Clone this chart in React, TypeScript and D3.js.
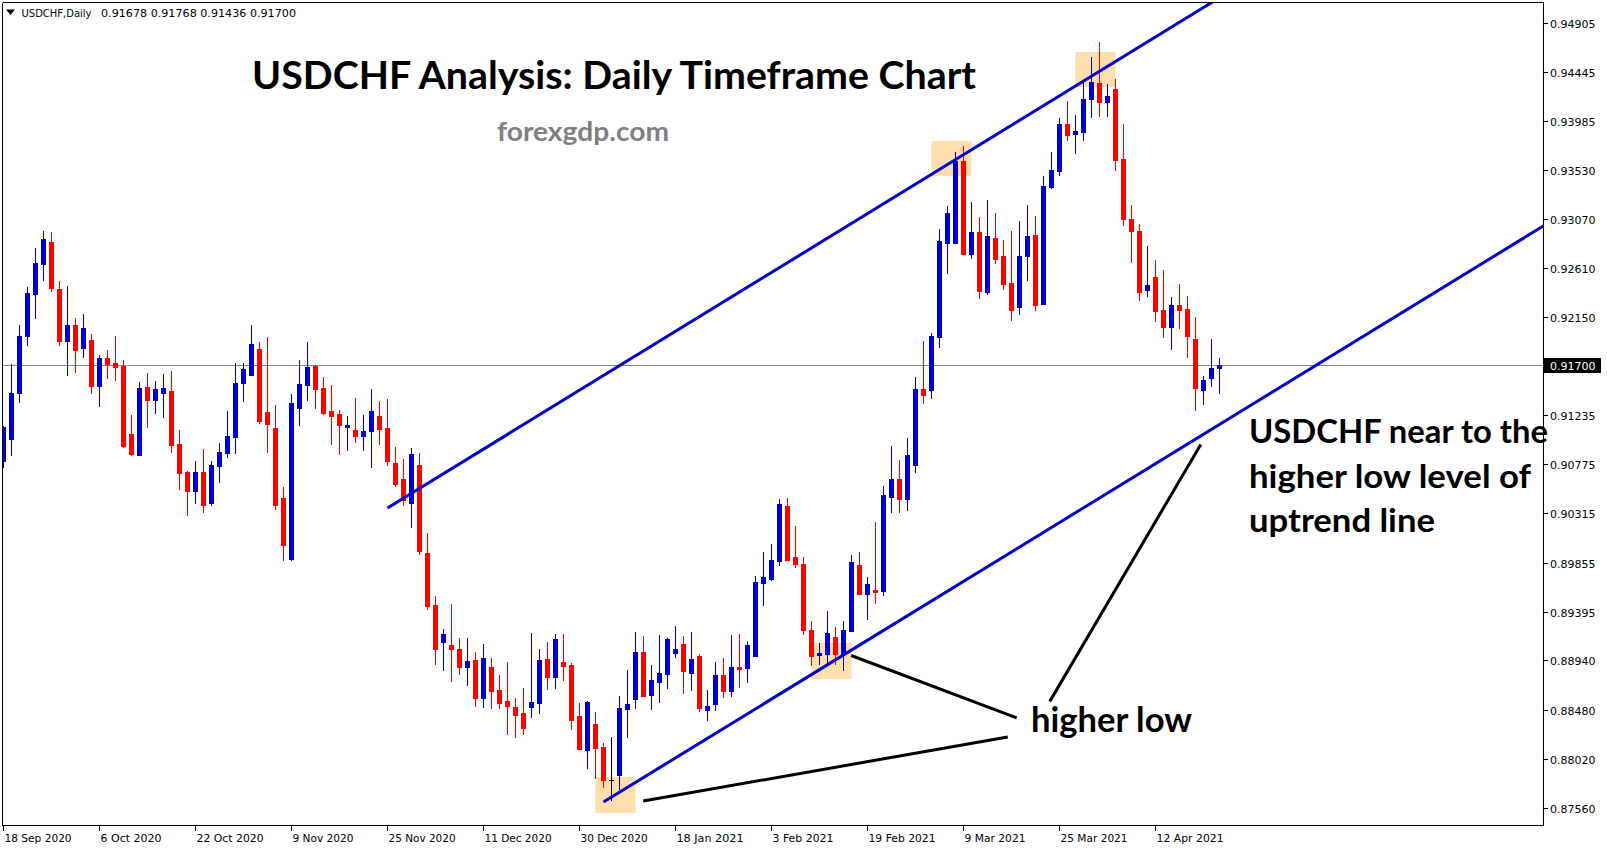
import React from 'react';
import * as d3 from 'd3';

const W = 1607;
const H = 850;

// ---- Data ----
const openP = [
  0.90807, 0.91013, 0.91437, 0.91976, 0.92369, 0.92649, 0.92852, 0.92413, 0.91929, 0.92076,
  0.91864, 0.91936, 0.91509, 0.91768, 0.91721, 0.91696, 0.91057, 0.90863, 0.91496, 0.91378,
  0.91443, 0.91459, 0.90963, 0.90702, 0.90527, 0.90702, 0.90415, 0.90761, 0.90882, 0.91032,
  0.91537, 0.91611, 0.91852, 0.91263, 0.91113, 0.90459, 0.89891, 0.91303, 0.91518, 0.91693,
  0.91487, 0.91272, 0.91244, 0.91125, 0.91094, 0.91041, 0.91088, 0.91225, 0.91113, 0.90786,
  0.90636, 0.90415, 0.90767, 0.89944, 0.89458, 0.89115, 0.89084, 0.89047, 0.88881, 0.88944,
  0.88591, 0.88878, 0.88663, 0.88560, 0.88504, 0.88448, 0.88507, 0.88545, 0.88953, 0.88788,
  0.88925, 0.88897, 0.88420, 0.88105, 0.88345, 0.88130, 0.87825, 0.87871, 0.88488, 0.88582,
  0.89019, 0.88619, 0.88741, 0.88816, 0.89012, 0.89093, 0.88825, 0.88981, 0.88479, 0.88535,
  0.88804, 0.88657, 0.88878, 0.88872, 0.88984, 0.89667, 0.89704, 0.89872, 0.90384, 0.89907,
  0.89841, 0.89224, 0.88993, 0.89000, 0.89159, 0.89000, 0.89218, 0.89832, 0.89564, 0.89598,
  0.89590, 0.90468, 0.90636, 0.90449, 0.90767, 0.91478, 0.91468, 0.91964, 0.92843, 0.92843,
  0.93609, 0.92743, 0.92946, 0.92388, 0.92890, 0.92721, 0.92469, 0.92247, 0.92724, 0.92918,
  0.92275, 0.93369, 0.93519, 0.93955, 0.93865, 0.93884, 0.94192, 0.94339, 0.94164, 0.94283,
  0.93628, 0.93067, 0.92955, 0.92406, 0.92525, 0.92216, 0.92060, 0.92263, 0.92226, 0.91945,
  0.91468, 0.91581, 0.91678,
];
const highP = [
  0.91132, 0.91711, 0.92076, 0.92431, 0.92796, 0.92955, 0.92946, 0.92487, 0.92441, 0.92142,
  0.92179, 0.91992, 0.91796, 0.91842, 0.91973, 0.91749, 0.91235, 0.91543, 0.91627, 0.91552,
  0.91618, 0.91646, 0.91094, 0.90710, 0.90804, 0.90917, 0.90804, 0.90973, 0.91272, 0.91721,
  0.91721, 0.92076, 0.91917, 0.91964, 0.91328, 0.90561, 0.91431, 0.91749, 0.91917, 0.91702,
  0.91590, 0.91515, 0.91281, 0.91225, 0.91394, 0.91235, 0.91478, 0.91365, 0.91384, 0.90935,
  0.90823, 0.90926, 0.90879, 0.90131, 0.89542, 0.89234, 0.89467, 0.89150, 0.89150, 0.89019,
  0.89093, 0.88963, 0.88804, 0.88925, 0.88589, 0.88682, 0.89196, 0.89047, 0.89112, 0.89187,
  0.89187, 0.88916, 0.88542, 0.88560, 0.88458, 0.88168, 0.88227, 0.88607, 0.88850, 0.89206,
  0.89168, 0.88897, 0.89178, 0.89150, 0.89262, 0.89168, 0.89206, 0.89000, 0.88663, 0.88925,
  0.88963, 0.89178, 0.89187, 0.89121, 0.89729, 0.89954, 0.90028, 0.90449, 0.90459, 0.90197,
  0.89907, 0.89308, 0.89103, 0.89402, 0.89252, 0.89308, 0.89926, 0.89954, 0.89720, 0.90234,
  0.90571, 0.90945, 0.90814, 0.91020, 0.91590, 0.91926, 0.92001, 0.92974, 0.93189, 0.93694,
  0.93750, 0.93226, 0.93086, 0.93245, 0.93123, 0.92871, 0.92955, 0.93048, 0.93198, 0.93095,
  0.93469, 0.93694, 0.94012, 0.94170, 0.94040, 0.94357, 0.94582, 0.94722, 0.94329, 0.94376,
  0.93955, 0.93198, 0.93020, 0.92815, 0.92684, 0.92590, 0.92338, 0.92459, 0.92347, 0.92151,
  0.91599, 0.91945, 0.91768,
];
const lowP = [
  0.90751, 0.90861, 0.91359, 0.91889, 0.92144, 0.92497, 0.92397, 0.91889, 0.91611, 0.91637,
  0.91780, 0.91443, 0.91322, 0.91583, 0.91562, 0.90935, 0.90861, 0.90860, 0.91122, 0.91256,
  0.91219, 0.90891, 0.90545, 0.90302, 0.90415, 0.90330, 0.90390, 0.90611, 0.90845, 0.90880,
  0.91368, 0.91605, 0.91163, 0.90891, 0.90358, 0.89879, 0.89879, 0.91144, 0.91378, 0.91303,
  0.91247, 0.90966, 0.90873, 0.90910, 0.90985, 0.90910, 0.90751, 0.90966, 0.90770, 0.90574,
  0.90396, 0.90190, 0.89938, 0.89423, 0.88909, 0.88853, 0.88750, 0.88816, 0.88713, 0.88517,
  0.88507, 0.88498, 0.88498, 0.88255, 0.88227, 0.88255, 0.88414, 0.88451, 0.88675, 0.88685,
  0.88760, 0.88301, 0.88110, 0.87937, 0.87843, 0.87759, 0.87635, 0.87740, 0.88227, 0.88498,
  0.88605, 0.88488, 0.88554, 0.88685, 0.88975, 0.88638, 0.88666, 0.88470, 0.88386, 0.88479,
  0.88601, 0.88610, 0.88694, 0.88741, 0.88980, 0.89461, 0.89695, 0.89835, 0.89875, 0.89816,
  0.89190, 0.88900, 0.88909, 0.88909, 0.88909, 0.88850, 0.89215, 0.89560, 0.89330, 0.89480,
  0.89552, 0.90328, 0.90328, 0.90346, 0.90702, 0.91347, 0.91394, 0.91870, 0.92562, 0.92840,
  0.92740, 0.92705, 0.92331, 0.92369, 0.92659, 0.92416, 0.92126, 0.92182, 0.92500, 0.92219,
  0.92270, 0.93360, 0.93482, 0.93809, 0.93687, 0.93809, 0.94024, 0.94033, 0.94033, 0.93528,
  0.93014, 0.92668, 0.92313, 0.92350, 0.92116, 0.91967, 0.91855, 0.92051, 0.91780, 0.91281,
  0.91337, 0.91506, 0.91436,
];
const closeP = [
  0.91125, 0.91443, 0.91973, 0.92375, 0.92656, 0.92880, 0.92425, 0.91929, 0.92076, 0.91845,
  0.92048, 0.91509, 0.91768, 0.91714, 0.91686, 0.90945, 0.90873, 0.91487, 0.91378, 0.91478,
  0.91487, 0.90957, 0.90695, 0.90527, 0.90702, 0.90396, 0.90767, 0.90889, 0.91038, 0.91534,
  0.91665, 0.91898, 0.91181, 0.91153, 0.90396, 0.90022, 0.91347, 0.91524, 0.91683, 0.91481,
  0.91256, 0.91228, 0.91144, 0.91141, 0.91041, 0.91085, 0.91272, 0.91106, 0.90807, 0.90592,
  0.90443, 0.90870, 0.89966, 0.89452, 0.89049, 0.89187, 0.89049, 0.88881, 0.88934, 0.88591,
  0.88963, 0.88657, 0.88545, 0.88517, 0.88432, 0.88311, 0.88551, 0.88944, 0.88788, 0.89140,
  0.88891, 0.88386, 0.88114, 0.88551, 0.88124, 0.87825, 0.87825, 0.88495, 0.88532, 0.89019,
  0.88610, 0.88757, 0.88822, 0.89140, 0.89047, 0.88844, 0.88953, 0.88498, 0.88514, 0.88804,
  0.88657, 0.88878, 0.88862, 0.89084, 0.89673, 0.89720, 0.89879, 0.90402, 0.89882, 0.89844,
  0.89227, 0.88984, 0.89009, 0.89196, 0.89000, 0.89224, 0.89860, 0.89564, 0.89654, 0.89582,
  0.90487, 0.90636, 0.90449, 0.90861, 0.91478, 0.91422, 0.91973, 0.92861, 0.93123, 0.93609,
  0.92743, 0.92946, 0.92397, 0.92908, 0.92696, 0.92462, 0.92219, 0.92721, 0.92908, 0.92266,
  0.93379, 0.93525, 0.93955, 0.93855, 0.93890, 0.94189, 0.94348, 0.94164, 0.94217, 0.93622,
  0.93070, 0.92958, 0.92388, 0.92450, 0.92210, 0.92060, 0.92263, 0.92219, 0.91976, 0.91490,
  0.91562, 0.91678, 0.91700,
];

const dateTickIndex = [0, 12, 24, 36, 48, 60, 72, 84, 96, 108, 120, 132, 144];
const dateTickLabels = [
  '18 Sep 2020', '6 Oct 2020', '22 Oct 2020', '9 Nov 2020', '25 Nov 2020', '11 Dec 2020',
  '30 Dec 2020', '18 Jan 2021', '3 Feb 2021', '19 Feb 2021', '9 Mar 2021', '25 Mar 2021', '12 Apr 2021',
];
const priceTicks = [
  0.94905, 0.94445, 0.93985, 0.9353, 0.9307, 0.9261, 0.9215, 0.91235, 0.90775, 0.90315,
  0.89855, 0.89395, 0.8894, 0.8848, 0.8802, 0.8756,
];
const priceTickLabels = [
  '0.94905', '0.94445', '0.93985', '0.93530', '0.93070', '0.92610', '0.92150', '0.91235',
  '0.90775', '0.90315', '0.89855', '0.89395', '0.88940', '0.88480', '0.88020', '0.87560',
];
const currentPrice = 0.917;
const currentPriceLabel = '0.91700';

// trend lines: [barIndex, price] anchors (rays to the right)
const upperTrend = [[48, 0.90365], [145, 0.94816]];
const lowerTrend = [[75, 0.87616], [160, 0.91513]];
// highlight rectangles: bar range and price range
const boxBars = [[74, 79], [101, 106], [116, 121], [134, 139]];
const boxPrices = [[0.8785, 0.87513], [0.89103, 0.88766], [0.93796, 0.93469], [0.94629, 0.94301]];
// black pointer lines
const pointerLines = [
  [[79.96, 0.87625], [125.53, 0.88224]],
  [[105.96, 0.88986], [126.65, 0.88402]],
  [[130.79, 0.88557], [149.66, 0.90959]],
];

const BULL = '#0000CD';
const BEAR = '#FF0000';

const PL = 2.5, PR = 1543.5, PT = 2.5, PB = 825.5;

export default function App() {
  const xScale = d3.scaleLinear().domain([0, 152]).range([3.5, 1219.5]);
  const yScale = d3.scaleLinear().domain([0.8756, 0.94905]).range([808, 22.5]);

  const candles = openP.map((o, i) => {
    const c = closeP[i];
    const h = highP[i];
    const l = lowP[i];
    const cx = xScale(i);
    const color = o === c ? '#000000' : c > o ? BULL : BEAR;
    const yTop = Math.round(yScale(Math.max(o, c)));
    const yBot = Math.round(yScale(Math.min(o, c)));
    const bh = Math.max(1, yBot - yTop);
    const wy1 = Math.round(yScale(h));
    const wy2 = Math.round(yScale(l));
    return (
      <g key={i}>
        <line x1={cx} x2={cx} y1={wy1} y2={wy2 + 1} stroke={color} strokeWidth={1} />
        {o === c ? (
          <line x1={cx - 2.5} x2={cx + 2.5} y1={yTop + 0.5} y2={yTop + 0.5} stroke={color} strokeWidth={1} />
        ) : (
          <rect x={cx - 2.5} y={yTop} width={5} height={bh + 1} fill={color} />
        )}
      </g>
    );
  });

  const ray = (pts: number[][]) => {
    const [a, b] = pts;
    const x1 = xScale(a[0]);
    const y1 = yScale(a[1]);
    const x2 = xScale(b[0]);
    const y2 = yScale(b[1]);
    const slope = (y2 - y1) / (x2 - x1);
    const xe = PR + 100;
    return { x1, y1, x2: xe, y2: y1 + slope * (xe - x1) };
  };
  const up = ray(upperTrend);
  const lo = ray(lowerTrend);
  const curY = Math.round(yScale(currentPrice)) + 0.5;

  return (
    <div style={{ position: 'absolute', left: 0, top: 0, width: W, height: H, background: '#fff' }}>
      <svg width={W} height={H} viewBox={`0 0 ${W} ${H}`} style={{ display: 'block' }}>
        <defs>
          <clipPath id="plot">
            <rect x={PL} y={PT} width={PR - PL} height={PB - PT} />
          </clipPath>
        </defs>
        <rect x={0} y={0} width={W} height={H} fill="#ffffff" />

        <g clipPath="url(#plot)">
          {boxBars.map((b, k) => (
            <rect
              key={k}
              x={xScale(b[0]) - 0}
              y={yScale(boxPrices[k][0])}
              width={xScale(b[1]) - xScale(b[0])}
              height={yScale(boxPrices[k][1]) - yScale(boxPrices[k][0])}
              fill="#FFDEAD"
            />
          ))}
          <line x1={PL} x2={PR} y1={curY} y2={curY} stroke="#778899" strokeWidth={1} />
          <g shapeRendering="crispEdges">{candles}</g>
          <line {...up} stroke={BULL} strokeWidth={3} />
          <line {...lo} stroke={BULL} strokeWidth={3} />
          {pointerLines.map((p, k) => (
            <line
              key={k}
              x1={xScale(p[0][0])}
              y1={yScale(p[0][1])}
              x2={xScale(p[1][0])}
              y2={yScale(p[1][1])}
              stroke="#000"
              strokeWidth={3}
            />
          ))}
        </g>

        {/* frame */}
        <g shapeRendering="crispEdges" stroke="#000" strokeWidth={1}>
          <line x1={PL} x2={PL} y1={PT} y2={PB} />
          <line x1={PL} x2={PR} y1={PT} y2={PT} />
          <line x1={PR} x2={PR} y1={PT} y2={PB} />
          <line x1={PL} x2={PR} y1={PB} y2={PB} />
        </g>

        {/* price axis */}
        <g fontFamily="'DejaVu Sans', sans-serif" fontSize={11} fill="#000">
          {priceTicks.map((v, k) => {
            const y = Math.round(yScale(v)) + 0.5;
            return (
              <g key={k}>
                <line x1={PR} x2={PR + 4} y1={y} y2={y} stroke="#000" shapeRendering="crispEdges" />
                <text x={1550} y={y + 4}>{priceTickLabels[k]}</text>
              </g>
            );
          })}
          <rect x={PR + 0.5} y={curY - 7.5} width={57} height={15} fill="#000" />
          <text x={1550} y={curY + 4} fill="#fff">{currentPriceLabel}</text>
        </g>

        {/* date axis */}
        <g fontFamily="'DejaVu Sans', sans-serif" fontSize={11} fill="#000">
          {dateTickIndex.map((idx, k) => {
            const x = Math.round(xScale(idx)) - 0.5;
            return (
              <g key={k}>
                <line x1={x} x2={x} y1={PB} y2={PB + 5} stroke="#000" shapeRendering="crispEdges" />
                <text x={x + 1} y={842} textLength={dateTickLabels[k].length * 6.1} lengthAdjust="spacingAndGlyphs">{dateTickLabels[k]}</text>
              </g>
            );
          })}
        </g>

        {/* header */}
        <path d="M6,9.5 L15,9.5 L10.5,15 Z" fill="#000" />
        <text x={21.5} y={17} fontFamily="'DejaVu Sans', sans-serif" fontSize={11} textLength={70} lengthAdjust="spacingAndGlyphs">USDCHF,Daily</text>
        <text x={101} y={17} fontFamily="'DejaVu Sans', sans-serif" fontSize={11} textLength={195} lengthAdjust="spacingAndGlyphs">0.91678 0.91768 0.91436 0.91700</text>

        {/* titles & annotations */}
        <g fontFamily="Lato, 'Open Sans', sans-serif" fontWeight={700}>
          <text x={252} y={89} fontSize={39} fill="#000" textLength={724} lengthAdjust="spacingAndGlyphs">
            USDCHF Analysis: Daily Timeframe Chart
          </text>
          <text x={497} y={141} fontSize={27} fill="#808080" textLength={172} lengthAdjust="spacingAndGlyphs">
            forexgdp.com
          </text>
          <text x={1031} y={732} fontSize={34} fill="#000" textLength={161} lengthAdjust="spacingAndGlyphs">
            higher low
          </text>
          <text x={1249} y={443} fontSize={33} fill="#000" textLength={299} lengthAdjust="spacingAndGlyphs">
            USDCHF near to the
          </text>
          <text x={1249} y={487.5} fontSize={33} fill="#000" textLength={282} lengthAdjust="spacingAndGlyphs">
            higher low level of
          </text>
          <text x={1249} y={532} fontSize={33} fill="#000" textLength={186} lengthAdjust="spacingAndGlyphs">
            uptrend line
          </text>
        </g>
      </svg>
    </div>
  );
}
